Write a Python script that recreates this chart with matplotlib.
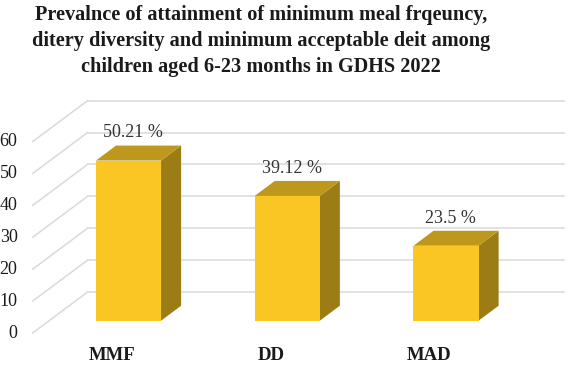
import matplotlib.pyplot as plt
from matplotlib.patches import Polygon

# data
categories = ['MMF', 'DD', 'MAD']
prevalence = [50.21, 39.12, 23.5]
bar_labels = ['50.21 %', '39.12 %', '23.5 %']
y_ticks = [0, 10, 20, 30, 40, 50, 60]
title = ('Prevalnce of attainment of minimum meal frqeuncy,\n'
         'ditery diversity and minimum acceptable deit among\n'
         'children aged 6-23 months in GDHS 2022')

# layout of the fake 3D (oblique) chart, in pixels of the 569x366 figure
W, H = 569, 366
PX_CAT = 158.75          # pixels between categories
PX_VAL = 3.19            # pixels per percent
X0, Y0 = 112, 333        # pixel position of category 0 / value 0 on the front plane
DEPTH_DX = 55 / PX_CAT   # shift of the back wall, category units
DEPTH_DY = 41 / PX_VAL   # shift of the back wall, value units
HALF_W = 0.205           # half bar width, category units
D_FRONT, D_BACK = 0.30, 0.665

FRONT = '#F9C623'
TOP = '#BE981C'
SIDE = '#9C7C14'
GRID = '#D9D9D9'

plt.rcParams['font.family'] = ['Liberation Serif', 'DejaVu Serif']


def proj(x, v, d):
    return (x + d * DEPTH_DX, v + d * DEPTH_DY)


fig = plt.figure(figsize=(W / 100, H / 100), dpi=100)
ax = fig.add_axes([0, 0, 1, 1])
ax.set_xlim(-X0 / PX_CAT, (W - X0) / PX_CAT)
ax.set_ylim((Y0 - H) / PX_VAL, Y0 / PX_VAL)
ax.axis('off')

n = len(categories)
left, right = -0.5, n - 0.5

# back wall and side wall gridlines
for v in y_ticks:
    xa, ya = proj(left, v, 1)
    xb, yb = proj(right, v, 1)
    ax.plot([xa, xb], [ya, yb], color=GRID, lw=1.1, zorder=1)
    xf, yf = proj(left, v, 0)
    ax.plot([xf, xa], [yf, ya], color=GRID, lw=1.1, zorder=1)
    ax.text(xf - 0.095, yf, str(v), ha='right', va='center',
            fontsize=13, color='#1a1a1a')

# bars
for i, val in enumerate(prevalence):
    xl, xr = i - HALF_W, i + HALF_W
    front = [proj(xl, 0, D_FRONT), proj(xr, 0, D_FRONT),
             proj(xr, val, D_FRONT), proj(xl, val, D_FRONT)]
    side = [proj(xr, 0, D_FRONT), proj(xr, 0, D_BACK),
            proj(xr, val, D_BACK), proj(xr, val, D_FRONT)]
    top = [proj(xl, val, D_FRONT), proj(xr, val, D_FRONT),
           proj(xr, val, D_BACK), proj(xl, val, D_BACK)]
    ax.add_patch(Polygon(side, closed=True, fc=SIDE, ec='none', zorder=3))
    ax.add_patch(Polygon(top, closed=True, fc=TOP, ec='none', zorder=3))
    ax.add_patch(Polygon(front, closed=True, fc=FRONT, ec='none', zorder=4))

    lx, _ = proj(i, val, D_FRONT)
    _, ly = proj(i, val, D_BACK)
    ax.text(lx + 0.03, ly + 4.0, bar_labels[i], ha='center', va='center',
            fontsize=13, color='#333333', zorder=5)

    cx, _ = proj(i, 0, 0)
    ax.text(cx, -6.9, categories[i], ha='center', va='center',
            fontsize=13.5, fontweight='bold', color='#1a1a1a')

fig.text(261 / W, 1 - 41 / H, title, ha='center', va='center',
         fontsize=14.6, fontweight='bold', linespacing=1.4, color='#1a1a1a')

fig.savefig('out.png', dpi=100)
